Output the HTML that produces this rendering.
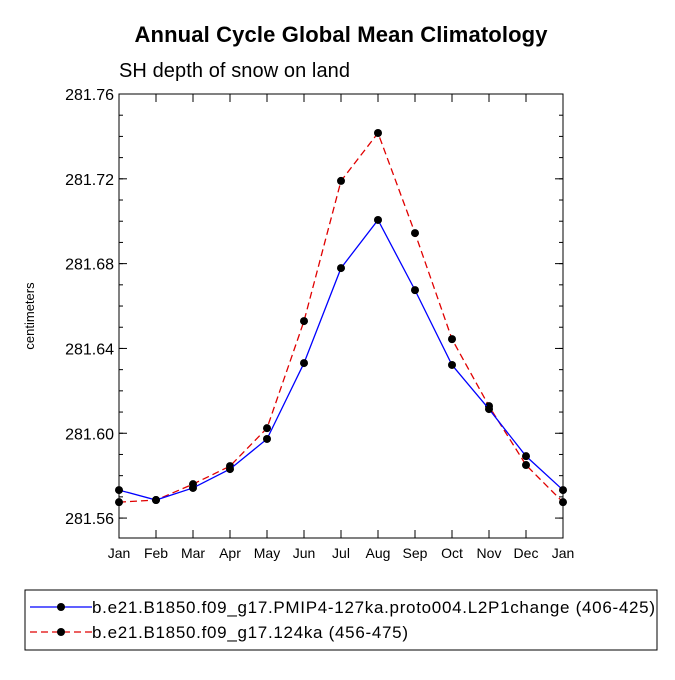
<!DOCTYPE html>
<html><head><meta charset="utf-8"><style>
body{margin:0;background:#fff;}
svg text{font-family:"Liberation Sans",Helvetica,Arial,sans-serif;}
</style></head><body>
<svg width="675" height="675" viewBox="0 0 675 675">
<text x="341" y="42" text-anchor="middle" font-size="22" font-weight="bold" textLength="413">Annual Cycle Global Mean Climatology</text>
<text x="119" y="77" font-size="20" textLength="231">SH depth of snow on land</text>
<text transform="translate(34,316) rotate(-90)" text-anchor="middle" font-size="13">centimeters</text>
<g id="axes"></g>
<g id="series"></g>
<rect x="25" y="590" width="632" height="60" fill="none" stroke="#000" stroke-width="1"/>
<g id="legend"></g>
</svg>
<script>
const months=["Jan","Feb","Mar","Apr","May","Jun","Jul","Aug","Sep","Oct","Nov","Dec","Jan"];
const yTicks=[281.56,281.60,281.64,281.68,281.72,281.76];
const yTickLabels=["281.56","281.60","281.64","281.68","281.72","281.76"];
const blueVals=[281.5732,281.5685,281.5742,281.5831,281.5973,281.6331,281.6779,281.7006,281.6675,281.6322,281.6114,281.5892,281.5732];
const redVals=[281.5675,281.5685,281.5760,281.5845,281.6024,281.6529,281.7190,281.7416,281.6944,281.6444,281.6128,281.5850,281.5675];
const seriesNames=["b.e21.B1850.f09_g17.PMIP4-127ka.proto004.L2P1change (406-425)","b.e21.B1850.f09_g17.124ka (456-475)"];
const legendLens=[563,316];
const NS="http://www.w3.org/2000/svg";
const L=119,R=563,T=94,B=538,ymin=281.5506,ymax=281.76;
const xs=i=>L+(R-L)*i/(months.length-1);
const ys=v=>B-(v-ymin)/(ymax-ymin)*(B-T);
function mk(tag,attrs,parent){const e=document.createElementNS(NS,tag);for(const k in attrs)e.setAttribute(k,attrs[k]);parent.appendChild(e);return e;}
const ax=document.getElementById('axes');
const frame=mk('rect',{x:L,y:T,width:R-L,height:B-T,fill:'none',stroke:'#000','stroke-width':1},ax);


months.forEach((m,i)=>{const x=xs(i);
 mk('line',{x1:x,y1:B,x2:x,y2:B-8,stroke:'#000'},ax);
 mk('line',{x1:x,y1:T,x2:x,y2:T+8,stroke:'#000'},ax);
 const t=mk('text',{x:x,y:B+20,'text-anchor':'middle','font-size':14},ax);t.textContent=m;
 
 
});
for(let v=281.56;v<=281.7601;v+=0.01){const y=ys(v);
 mk('line',{x1:L,y1:y,x2:L+4,y2:y,stroke:'#000'},ax);
 mk('line',{x1:R,y1:y,x2:R-4,y2:y,stroke:'#000'},ax);}
yTicks.forEach((v,i)=>{const y=ys(v);
 mk('line',{x1:L,y1:y,x2:L+8,y2:y,stroke:'#000'},ax);
 mk('line',{x1:R,y1:y,x2:R-8,y2:y,stroke:'#000'},ax);
 const t=mk('text',{x:L-5,y:y+6,'text-anchor':'end','font-size':16},ax);t.textContent=yTickLabels[i];
 
 
});
const sg=document.getElementById('series');
function draw(vals,color,dash,name){
 const g=mk('g',{},sg);
 
 
 mk('polyline',{points:vals.map((v,i)=>xs(i)+','+ys(v)).join(' '),fill:'none',stroke:color,'stroke-width':1.3,'stroke-dasharray':dash},g);
 vals.forEach((v,i)=>{const c=mk('circle',{cx:xs(i),cy:ys(v),r:4,fill:'#000'},g);
  
  });
}
draw(redVals,'#e00000','7,4','series-124ka');
draw(blueVals,'#0000ff','none','series-127ka');
const lg=document.getElementById('legend');
[[blueVals,'#0000ff','none',607],[redVals,'#e00000','7,4',632]].forEach((s,i)=>{
 const g=mk('g',{},lg);
 
 
 mk('line',{x1:30,y1:s[3],x2:92,y2:s[3],stroke:s[1],'stroke-width':1.3,'stroke-dasharray':s[2]},g);
 mk('circle',{cx:61,cy:s[3],r:4,fill:'#000'},g);
 const t=mk('text',{x:92,y:s[3]+6,'font-size':17,textLength:legendLens[i]},g);t.textContent=seriesNames[i];
});
</script>
</body></html>
